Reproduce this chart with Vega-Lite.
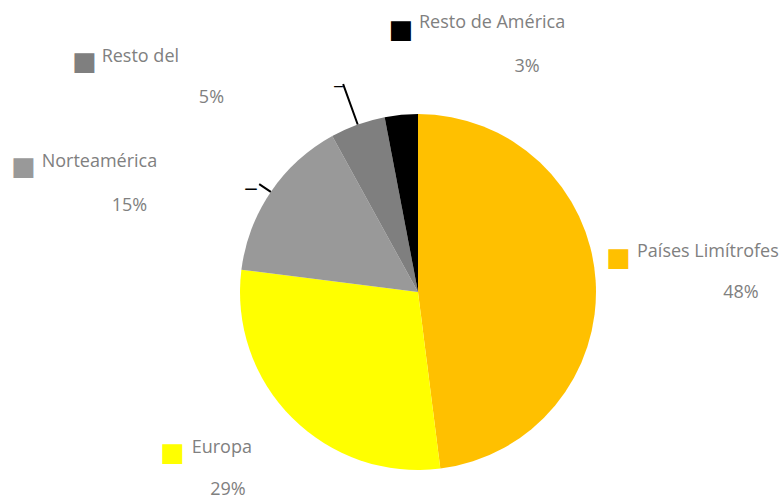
{
  "$schema": "https://vega.github.io/schema/vega-lite/v6.json",
  "width": 732,
  "height": 410,
  "autosize": "none",
  "padding": {"left": 52, "top": 87, "right": 0, "bottom": 0},
  "background": "white",
  "config": {"view": {"stroke": null}},
  "data": {"values": [
    {"categoria": "Países Limítrofes", "valor": 0.48, "orden": 1},
    {"categoria": "Europa", "valor": 0.29, "orden": 2},
    {"categoria": "Norteamérica", "valor": 0.15, "orden": 3},
    {"categoria": "Resto del", "valor": 0.05, "orden": 4},
    {"categoria": "Resto de América", "valor": 0.03, "orden": 5}
  ]},
  "encoding": {
    "theta": {"field": "valor", "type": "quantitative", "stack": true},
    "order": {"field": "orden", "type": "quantitative"},
    "detail": {"field": "categoria", "type": "nominal"}
  },
  "layer": [
    {
      "mark": {"type": "arc", "outerRadius": 178},
      "encoding": {
        "color": {"field": "categoria", "type": "nominal", "legend": null,
          "scale": {"domain": ["Países Limítrofes", "Europa", "Norteamérica", "Resto del", "Resto de América"],
                    "range": ["#FFC000", "#FFFF00", "#999999", "#7F7F7F", "#000000"]}}
      }
    },
    {
      "mark": {"type": "arc", "innerRadius": 178, "outerRadius": 192, "padAngle": 3, "fillOpacity": 0, "stroke": "#000000", "strokeWidth": 2},
      "encoding": {"strokeOpacity": {"condition": {"test": "datum.categoria === 'Norteamérica'", "value": 1}, "value": 0}}
    },
    {
      "mark": {"type": "arc", "innerRadius": 178, "outerRadius": 221, "padAngle": 3, "fillOpacity": 0, "stroke": "#000000", "strokeWidth": 2},
      "encoding": {"strokeOpacity": {"condition": {"test": "datum.categoria === 'Resto del'", "value": 1}, "value": 0}}
    },
    {"mark": {"type": "text", "radius": 200, "text": "—", "font": "DejaVu Sans", "fontSize": 13, "fontWeight": "bold", "color": "#000000", "align": "center", "baseline": "middle", "dx": -1.6, "dy": 9.5},
     "encoding": {"opacity": {"condition": {"test": "datum.categoria === 'Norteamérica'", "value": 1}, "value": 0}}},
    {"mark": {"type": "text", "radius": 200, "text": "—", "font": "DejaVu Sans", "fontSize": 10, "fontWeight": "bold", "color": "#000000", "align": "center", "baseline": "middle", "dx": -11.7, "dy": -16.8},
     "encoding": {"opacity": {"condition": {"test": "datum.categoria === 'Resto del'", "value": 1}, "value": 0}}},

    {"mark": {"type": "text", "radius": 200, "text": "■", "font": "DejaVu Sans", "fontSize": 26, "align": "center", "baseline": "middle", "dx": 0.9, "dy": -21.9},
     "encoding": {"color": {"field": "categoria", "type": "nominal", "legend": null}, "opacity": {"condition": {"test": "datum.categoria === 'Países Limítrofes'", "value": 1}, "value": 0}}},
    {"mark": {"type": "text", "radius": 200, "text": "■", "font": "DejaVu Sans", "fontSize": 26, "align": "center", "baseline": "middle", "dx": -104.1, "dy": 19.6},
     "encoding": {"color": {"field": "categoria", "type": "nominal", "legend": null}, "opacity": {"condition": {"test": "datum.categoria === 'Europa'", "value": 1}, "value": 0}}},
    {"mark": {"type": "text", "radius": 200, "text": "■", "font": "DejaVu Sans", "fontSize": 26, "align": "center", "baseline": "middle", "dx": -229.1, "dy": -12.1},
     "encoding": {"color": {"field": "categoria", "type": "nominal", "legend": null}, "opacity": {"condition": {"test": "datum.categoria === 'Norteamérica'", "value": 1}, "value": 0}}},
    {"mark": {"type": "text", "radius": 200, "text": "■", "font": "DejaVu Sans", "fontSize": 26, "align": "center", "baseline": "middle", "dx": -265.8, "dy": -42.1},
     "encoding": {"color": {"field": "categoria", "type": "nominal", "legend": null}, "opacity": {"condition": {"test": "datum.categoria === 'Resto del'", "value": 1}, "value": 0}}},
    {"mark": {"type": "text", "radius": 200, "text": "■", "font": "DejaVu Sans", "fontSize": 26, "align": "center", "baseline": "middle", "dx": 1.8, "dy": -62.9},
     "encoding": {"color": {"field": "categoria", "type": "nominal", "legend": null}, "opacity": {"condition": {"test": "datum.categoria === 'Resto de América'", "value": 1}, "value": 0}}},

    {"mark": {"type": "text", "radius": 200, "font": "Open Sans", "fontSize": 18, "color": "#808080", "align": "left", "baseline": "alphabetic", "dx": 19.4, "dy": -22.1},
     "encoding": {"text": {"field": "categoria"}, "opacity": {"condition": {"test": "datum.categoria === 'Países Limítrofes'", "value": 1}, "value": 0}}},
    {"mark": {"type": "text", "radius": 200, "font": "Open Sans", "fontSize": 18, "color": "#808080", "align": "left", "baseline": "alphabetic", "dx": -84.9, "dy": 19.3},
     "encoding": {"text": {"field": "categoria"}, "opacity": {"condition": {"test": "datum.categoria === 'Europa'", "value": 1}, "value": 0}}},
    {"mark": {"type": "text", "radius": 200, "font": "Open Sans", "fontSize": 18, "color": "#808080", "align": "left", "baseline": "alphabetic", "dx": -210.9, "dy": -12.6},
     "encoding": {"text": {"field": "categoria"}, "opacity": {"condition": {"test": "datum.categoria === 'Norteamérica'", "value": 1}, "value": 0}}},
    {"mark": {"type": "text", "radius": 200, "font": "Open Sans", "fontSize": 18, "color": "#808080", "align": "left", "baseline": "alphabetic", "dx": -248.6, "dy": -41.8},
     "encoding": {"text": {"field": "categoria"}, "opacity": {"condition": {"test": "datum.categoria === 'Resto del'", "value": 1}, "value": 0}}},
    {"mark": {"type": "text", "radius": 200, "font": "Open Sans", "fontSize": 18, "color": "#808080", "align": "left", "baseline": "alphabetic", "dx": 19.8, "dy": -64.9},
     "encoding": {"text": {"field": "categoria"}, "opacity": {"condition": {"test": "datum.categoria === 'Resto de América'", "value": 1}, "value": 0}}},

    {"mark": {"type": "text", "radius": 200, "font": "Open Sans", "fontSize": 18, "color": "#808080", "align": "center", "baseline": "alphabetic", "dx": 123.4, "dy": 18.6},
     "encoding": {"text": {"field": "valor", "type": "quantitative", "format": ".0%"}, "opacity": {"condition": {"test": "datum.categoria === 'Países Limítrofes'", "value": 1}, "value": 0}}},
    {"mark": {"type": "text", "radius": 200, "font": "Open Sans", "fontSize": 18, "color": "#808080", "align": "center", "baseline": "alphabetic", "dx": -48.6, "dy": 61.4},
     "encoding": {"text": {"field": "valor", "type": "quantitative", "format": ".0%"}, "opacity": {"condition": {"test": "datum.categoria === 'Europa'", "value": 1}, "value": 0}}},
    {"mark": {"type": "text", "radius": 200, "font": "Open Sans", "fontSize": 18, "color": "#808080", "align": "center", "baseline": "alphabetic", "dx": -123.1, "dy": 31.4},
     "encoding": {"text": {"field": "valor", "type": "quantitative", "format": ".0%"}, "opacity": {"condition": {"test": "datum.categoria === 'Norteamérica'", "value": 1}, "value": 0}}},
    {"mark": {"type": "text", "radius": 200, "font": "Open Sans", "fontSize": 18, "color": "#808080", "align": "center", "baseline": "alphabetic", "dx": -138.8, "dy": -0.8},
     "encoding": {"text": {"field": "valor", "type": "quantitative", "format": ".0%"}, "opacity": {"condition": {"test": "datum.categoria === 'Resto del'", "value": 1}, "value": 0}}},
    {"mark": {"type": "text", "radius": 200, "font": "Open Sans", "fontSize": 18, "color": "#808080", "align": "center", "baseline": "alphabetic", "dx": 127.8, "dy": -20.9},
     "encoding": {"text": {"field": "valor", "type": "quantitative", "format": ".0%"}, "opacity": {"condition": {"test": "datum.categoria === 'Resto de América'", "value": 1}, "value": 0}}}
  ]
}
